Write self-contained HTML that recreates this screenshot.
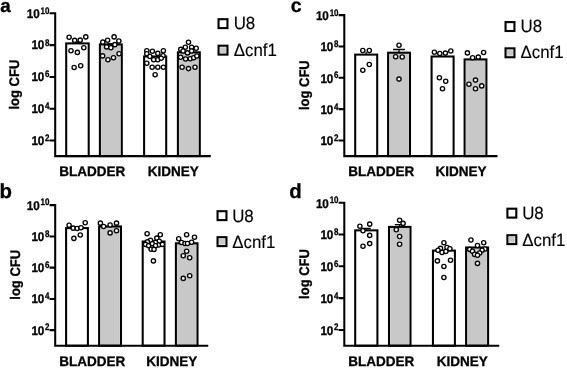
<!DOCTYPE html>
<html lang="en">
<head>
<meta charset="utf-8">
<title>log CFU bladder / kidney</title>
<style>
html,body{margin:0;padding:0;background:#fff;}
body{width:567px;height:368px;overflow:hidden;}
svg{display:block;}
text{font-family:"Liberation Sans",Arial,Helvetica,sans-serif;fill:#000;stroke:#000;stroke-width:0.3px;text-rendering:geometricPrecision;}
.b{font-weight:700;}
.pl{font-size:18px;font-weight:700;}
.tk{font-size:11.7px;font-weight:700;letter-spacing:-0.2px;}
.sp{font-size:9.5px;font-weight:700;}
.ax{font-size:13.5px;font-weight:700;}
.lg{font-size:16.9px;stroke-width:0.12px;}
.ln{stroke:#000;stroke-width:2.05;fill:none;}
.dot{fill:#fff;stroke:#000;stroke-width:1.35;}
</style>
</head>
<body>
<svg width="567" height="368" viewBox="0 0 567 368">
<rect x="0" y="0" width="567" height="368" fill="#ffffff"/>
<g id="panel-a">
<text class="pl" style="font-size:18.8px" x="0.2" y="11.6">a</text>
<rect class="ln" x="66.20" y="43.40" width="22.50" height="112.70"/>
<path class="ln" style="stroke-width:1.3" d="M77.40 43.40V42.00M73.20 42.00H81.60"/>
<rect x="101.15" y="44.40" width="19.40" height="111.70" fill="#c8c8c8"/>
<rect class="ln" x="99.90" y="44.40" width="21.90" height="111.70"/>
<path class="ln" style="stroke-width:1.3" d="M110.90 44.40V43.60M107.90 43.60H113.90"/>
<rect class="ln" x="144.10" y="56.50" width="22.10" height="99.60"/>
<rect x="179.15" y="52.30" width="19.40" height="103.80" fill="#c8c8c8"/>
<rect class="ln" x="177.90" y="52.30" width="21.90" height="103.80"/>
<path class="ln" d="M55.20 12.28V156.10H210.75M55.20 13.30H49.50M55.20 45.10H49.50M55.20 76.90H49.50M55.20 108.65H49.50M55.20 140.40H49.50"/>
<text class="tk" text-anchor="end" transform="translate(39.45 17.65) scale(1 1.08)">10</text>
<text class="sp" text-anchor="end" transform="translate(49.45 13.85) scale(0.84 1.0)">10</text>
<text class="tk" text-anchor="end" transform="translate(44.00 49.45) scale(1 1.08)">10</text>
<text class="sp" text-anchor="end" transform="translate(49.45 45.65) scale(0.84 1.0)">8</text>
<text class="tk" text-anchor="end" transform="translate(44.00 81.25) scale(1 1.08)">10</text>
<text class="sp" text-anchor="end" transform="translate(49.45 77.45) scale(0.84 1.0)">6</text>
<text class="tk" text-anchor="end" transform="translate(44.00 113.00) scale(1 1.08)">10</text>
<text class="sp" text-anchor="end" transform="translate(49.45 109.20) scale(0.84 1.0)">4</text>
<text class="tk" text-anchor="end" transform="translate(44.00 144.75) scale(1 1.08)">10</text>
<text class="sp" text-anchor="end" transform="translate(49.45 140.95) scale(0.84 1.0)">2</text>
<circle class="dot" cx="69.10" cy="37.30" r="2.12"/>
<circle class="dot" cx="74.65" cy="40.40" r="2.12"/>
<circle class="dot" cx="80.20" cy="40.15" r="2.12"/>
<circle class="dot" cx="85.80" cy="36.90" r="2.12"/>
<circle class="dot" cx="83.80" cy="47.70" r="2.12"/>
<circle class="dot" cx="71.00" cy="50.70" r="2.12"/>
<circle class="dot" cx="77.40" cy="52.40" r="2.12"/>
<circle class="dot" cx="74.15" cy="67.45" r="2.12"/>
<circle class="dot" cx="80.70" cy="65.70" r="2.12"/>
<circle class="dot" cx="114.10" cy="36.90" r="2.12"/>
<circle class="dot" cx="107.60" cy="40.30" r="2.12"/>
<circle class="dot" cx="102.80" cy="42.15" r="2.12"/>
<circle class="dot" cx="118.85" cy="41.00" r="2.12"/>
<circle class="dot" cx="114.85" cy="44.65" r="2.12"/>
<circle class="dot" cx="106.60" cy="46.90" r="2.12"/>
<circle class="dot" cx="110.85" cy="47.80" r="2.12"/>
<circle class="dot" cx="119.10" cy="53.80" r="2.12"/>
<circle class="dot" cx="102.60" cy="55.90" r="2.12"/>
<circle class="dot" cx="113.50" cy="57.80" r="2.12"/>
<circle class="dot" cx="107.95" cy="59.70" r="2.12"/>
<circle class="dot" cx="146.80" cy="50.70" r="2.12"/>
<circle class="dot" cx="152.40" cy="51.30" r="2.12"/>
<circle class="dot" cx="157.80" cy="53.40" r="2.12"/>
<circle class="dot" cx="163.40" cy="50.70" r="2.12"/>
<circle class="dot" cx="146.80" cy="53.80" r="2.12"/>
<circle class="dot" cx="149.90" cy="56.50" r="2.12"/>
<circle class="dot" cx="163.00" cy="55.70" r="2.12"/>
<circle class="dot" cx="153.65" cy="59.80" r="2.12"/>
<circle class="dot" cx="157.80" cy="59.80" r="2.12"/>
<circle class="dot" cx="161.20" cy="58.20" r="2.12"/>
<circle class="dot" cx="146.80" cy="63.20" r="2.12"/>
<circle class="dot" cx="152.15" cy="67.30" r="2.12"/>
<circle class="dot" cx="157.80" cy="67.30" r="2.12"/>
<circle class="dot" cx="163.40" cy="67.30" r="2.12"/>
<circle class="dot" cx="155.15" cy="74.80" r="2.12"/>
<circle class="dot" cx="188.50" cy="42.30" r="2.12"/>
<circle class="dot" cx="185.30" cy="47.30" r="2.12"/>
<circle class="dot" cx="191.60" cy="47.30" r="2.12"/>
<circle class="dot" cx="180.80" cy="49.40" r="2.12"/>
<circle class="dot" cx="196.20" cy="48.20" r="2.12"/>
<circle class="dot" cx="183.10" cy="51.00" r="2.12"/>
<circle class="dot" cx="191.60" cy="51.00" r="2.12"/>
<circle class="dot" cx="187.50" cy="52.90" r="2.12"/>
<circle class="dot" cx="180.60" cy="57.30" r="2.12"/>
<circle class="dot" cx="185.60" cy="59.05" r="2.12"/>
<circle class="dot" cx="190.30" cy="58.80" r="2.12"/>
<circle class="dot" cx="193.70" cy="57.80" r="2.12"/>
<circle class="dot" cx="196.85" cy="56.05" r="2.12"/>
<circle class="dot" cx="182.10" cy="67.20" r="2.12"/>
<circle class="dot" cx="188.50" cy="68.60" r="2.12"/>
<circle class="dot" cx="195.00" cy="67.20" r="2.12"/>
<text class="ax" style="font-size:13px" text-anchor="middle" transform="translate(19.00 84.60) rotate(-90) scale(1 1.07)">log CFU</text>
<text class="ax" transform="translate(59.20 175.70) scale(1 1.03)">BLADDER</text>
<text class="ax" transform="translate(147.70 175.70) scale(1 1.03)">KIDNEY</text>
<rect x="218.55" y="19.20" width="8.90" height="8.90" fill="#fff" stroke="#000" stroke-width="2.1"/>
<text class="lg" transform="translate(233.65 29.20) scale(1 1.045)">U8</text>
<rect x="218.55" y="45.70" width="8.90" height="8.90" fill="#fff" stroke="#000" stroke-width="2.1"/>
<rect x="220.10" y="47.25" width="5.80" height="5.80" fill="#c8c8c8"/>
<text class="lg" transform="translate(233.65 55.70) scale(1 1.045)">Δcnf1</text>
</g>
<g id="panel-b">
<text class="pl" style="font-size:20.4px" x="-0.4" y="197.9">b</text>
<rect class="ln" x="66.10" y="228.10" width="21.80" height="117.60"/>
<rect x="100.35" y="226.50" width="19.40" height="119.20" fill="#c8c8c8"/>
<rect class="ln" x="99.10" y="226.50" width="21.90" height="119.20"/>
<rect class="ln" x="142.70" y="241.50" width="21.80" height="104.20"/>
<rect x="177.15" y="243.30" width="19.10" height="102.40" fill="#c8c8c8"/>
<rect class="ln" x="175.90" y="243.30" width="21.60" height="102.40"/>
<path class="ln" d="M55.20 204.07V345.70H208.25M55.20 205.10H49.50M55.20 236.40H49.50M55.20 267.60H49.50M55.20 298.90H49.50M55.20 330.10H49.50"/>
<text class="tk" text-anchor="end" transform="translate(39.45 209.55) scale(1 1.08)">10</text>
<text class="sp" text-anchor="end" transform="translate(49.45 205.45) scale(0.84 1.0)">10</text>
<text class="tk" text-anchor="end" transform="translate(44.00 240.85) scale(1 1.08)">10</text>
<text class="sp" text-anchor="end" transform="translate(49.45 236.75) scale(0.84 1.0)">8</text>
<text class="tk" text-anchor="end" transform="translate(44.00 272.05) scale(1 1.08)">10</text>
<text class="sp" text-anchor="end" transform="translate(49.45 267.95) scale(0.84 1.0)">6</text>
<text class="tk" text-anchor="end" transform="translate(44.00 303.35) scale(1 1.08)">10</text>
<text class="sp" text-anchor="end" transform="translate(49.45 299.25) scale(0.84 1.0)">4</text>
<text class="tk" text-anchor="end" transform="translate(44.00 334.55) scale(1 1.08)">10</text>
<text class="sp" text-anchor="end" transform="translate(49.45 330.45) scale(0.84 1.0)">2</text>
<circle class="dot" cx="69.10" cy="225.30" r="2.12"/>
<circle class="dot" cx="73.15" cy="228.15" r="2.12"/>
<circle class="dot" cx="77.15" cy="228.50" r="2.12"/>
<circle class="dot" cx="81.00" cy="227.80" r="2.12"/>
<circle class="dot" cx="85.20" cy="222.80" r="2.12"/>
<circle class="dot" cx="80.30" cy="235.00" r="2.12"/>
<circle class="dot" cx="73.90" cy="238.40" r="2.12"/>
<circle class="dot" cx="100.40" cy="223.15" r="2.12"/>
<circle class="dot" cx="103.60" cy="226.50" r="2.12"/>
<circle class="dot" cx="110.10" cy="225.00" r="2.12"/>
<circle class="dot" cx="116.50" cy="223.15" r="2.12"/>
<circle class="dot" cx="116.50" cy="230.70" r="2.12"/>
<circle class="dot" cx="110.10" cy="232.90" r="2.12"/>
<circle class="dot" cx="147.10" cy="233.80" r="2.12"/>
<circle class="dot" cx="160.30" cy="234.80" r="2.12"/>
<circle class="dot" cx="156.80" cy="238.15" r="2.12"/>
<circle class="dot" cx="150.50" cy="240.30" r="2.12"/>
<circle class="dot" cx="147.40" cy="241.90" r="2.12"/>
<circle class="dot" cx="159.30" cy="241.30" r="2.12"/>
<circle class="dot" cx="155.50" cy="242.50" r="2.12"/>
<circle class="dot" cx="145.50" cy="244.40" r="2.12"/>
<circle class="dot" cx="148.60" cy="245.70" r="2.12"/>
<circle class="dot" cx="152.40" cy="243.80" r="2.12"/>
<circle class="dot" cx="158.70" cy="245.00" r="2.12"/>
<circle class="dot" cx="162.40" cy="244.40" r="2.12"/>
<circle class="dot" cx="155.50" cy="245.70" r="2.12"/>
<circle class="dot" cx="151.15" cy="249.20" r="2.12"/>
<circle class="dot" cx="154.00" cy="249.40" r="2.12"/>
<circle class="dot" cx="153.40" cy="260.90" r="2.12"/>
<circle class="dot" cx="186.60" cy="234.80" r="2.12"/>
<circle class="dot" cx="178.70" cy="238.80" r="2.12"/>
<circle class="dot" cx="194.50" cy="237.30" r="2.12"/>
<circle class="dot" cx="181.60" cy="242.50" r="2.12"/>
<circle class="dot" cx="185.00" cy="243.50" r="2.12"/>
<circle class="dot" cx="187.50" cy="243.50" r="2.12"/>
<circle class="dot" cx="191.60" cy="242.30" r="2.12"/>
<circle class="dot" cx="186.60" cy="251.30" r="2.12"/>
<circle class="dot" cx="183.30" cy="255.70" r="2.12"/>
<circle class="dot" cx="189.70" cy="257.80" r="2.12"/>
<circle class="dot" cx="183.30" cy="278.40" r="2.12"/>
<circle class="dot" cx="189.70" cy="275.70" r="2.12"/>
<text class="ax" style="font-size:13px" text-anchor="middle" transform="translate(19.50 274.80) rotate(-90) scale(1 1.07)">log CFU</text>
<text class="ax" transform="translate(59.20 365.50) scale(1 1.03)">BLADDER</text>
<text class="ax" transform="translate(146.20 365.50) scale(1 1.03)">KIDNEY</text>
<rect x="217.55" y="211.20" width="8.90" height="8.90" fill="#fff" stroke="#000" stroke-width="2.1"/>
<text class="lg" transform="translate(232.15 221.90) scale(1 1.045)">U8</text>
<rect x="217.55" y="237.20" width="8.90" height="8.90" fill="#fff" stroke="#000" stroke-width="2.1"/>
<rect x="219.10" y="238.75" width="5.80" height="5.80" fill="#c8c8c8"/>
<text class="lg" transform="translate(232.15 247.60) scale(1 1.045)">Δcnf1</text>
</g>
<g id="panel-c">
<text class="pl" style="font-size:19.6px" x="290.7" y="12.1">c</text>
<rect class="ln" x="355.20" y="54.60" width="22.00" height="101.50"/>
<path class="ln" style="stroke-width:1.3" d="M366.15 54.60V52.00"/>
<rect x="389.35" y="52.70" width="19.40" height="103.40" fill="#c8c8c8"/>
<rect class="ln" x="388.10" y="52.70" width="21.90" height="103.40"/>
<path class="ln" style="stroke-width:1.3" d="M399.00 52.70V49.50M393.10 49.50H404.90"/>
<rect class="ln" x="431.60" y="56.50" width="22.00" height="99.60"/>
<rect x="465.85" y="59.40" width="19.30" height="96.70" fill="#c8c8c8"/>
<rect class="ln" x="464.60" y="59.40" width="21.80" height="96.70"/>
<path class="ln" d="M344.30 14.07V156.10H497.50M344.30 15.10H338.60M344.30 46.50H338.60M344.30 77.80H338.60M344.30 109.10H338.60M344.30 140.40H338.60"/>
<text class="tk" text-anchor="end" transform="translate(328.55 19.80) scale(1 1.08)">10</text>
<text class="sp" text-anchor="end" transform="translate(338.55 15.75) scale(0.84 1.0)">10</text>
<text class="tk" text-anchor="end" transform="translate(333.10 51.20) scale(1 1.08)">10</text>
<text class="sp" text-anchor="end" transform="translate(338.55 47.15) scale(0.84 1.0)">8</text>
<text class="tk" text-anchor="end" transform="translate(333.10 82.50) scale(1 1.08)">10</text>
<text class="sp" text-anchor="end" transform="translate(338.55 78.45) scale(0.84 1.0)">6</text>
<text class="tk" text-anchor="end" transform="translate(333.10 113.80) scale(1 1.08)">10</text>
<text class="sp" text-anchor="end" transform="translate(338.55 109.75) scale(0.84 1.0)">4</text>
<text class="tk" text-anchor="end" transform="translate(333.10 145.10) scale(1 1.08)">10</text>
<text class="sp" text-anchor="end" transform="translate(338.55 141.05) scale(0.84 1.0)">2</text>
<circle class="dot" cx="362.80" cy="50.50" r="2.12"/>
<circle class="dot" cx="369.30" cy="50.50" r="2.12"/>
<circle class="dot" cx="369.30" cy="64.50" r="2.12"/>
<circle class="dot" cx="362.80" cy="70.30" r="2.12"/>
<circle class="dot" cx="399.00" cy="45.30" r="2.12"/>
<circle class="dot" cx="395.60" cy="56.80" r="2.12"/>
<circle class="dot" cx="402.20" cy="57.00" r="2.12"/>
<circle class="dot" cx="399.00" cy="79.10" r="2.12"/>
<circle class="dot" cx="434.40" cy="52.30" r="2.12"/>
<circle class="dot" cx="439.80" cy="53.50" r="2.12"/>
<circle class="dot" cx="445.40" cy="53.10" r="2.12"/>
<circle class="dot" cx="450.80" cy="51.00" r="2.12"/>
<circle class="dot" cx="439.40" cy="77.80" r="2.12"/>
<circle class="dot" cx="445.70" cy="81.30" r="2.12"/>
<circle class="dot" cx="442.50" cy="88.80" r="2.12"/>
<circle class="dot" cx="467.40" cy="52.90" r="2.12"/>
<circle class="dot" cx="483.60" cy="52.50" r="2.12"/>
<circle class="dot" cx="472.60" cy="57.80" r="2.12"/>
<circle class="dot" cx="478.30" cy="57.10" r="2.12"/>
<circle class="dot" cx="475.50" cy="80.10" r="2.12"/>
<circle class="dot" cx="468.95" cy="84.20" r="2.12"/>
<circle class="dot" cx="481.70" cy="85.90" r="2.12"/>
<circle class="dot" cx="475.50" cy="88.80" r="2.12"/>
<text class="ax" style="font-size:13px" text-anchor="middle" transform="translate(308.90 85.20) rotate(-90) scale(1 1.07)">log CFU</text>
<text class="ax" transform="translate(348.20 175.70) scale(1 1.03)">BLADDER</text>
<text class="ax" transform="translate(435.45 175.70) scale(1 1.03)">KIDNEY</text>
<rect x="505.55" y="22.10" width="8.90" height="8.90" fill="#fff" stroke="#000" stroke-width="2.1"/>
<text class="lg" transform="translate(520.45 32.00) scale(1 1.045)">U8</text>
<rect x="505.55" y="48.35" width="8.90" height="8.90" fill="#fff" stroke="#000" stroke-width="2.1"/>
<rect x="507.10" y="49.90" width="5.80" height="5.80" fill="#c8c8c8"/>
<text class="lg" transform="translate(520.45 58.20) scale(1 1.045)">Δcnf1</text>
</g>
<g id="panel-d">
<text class="pl" style="font-size:20.4px" x="289.3" y="197.9">d</text>
<rect class="ln" x="355.20" y="230.35" width="22.20" height="115.35"/>
<path class="ln" style="stroke-width:1.3" d="M366.30 230.35V228.50M361.90 228.50H370.70"/>
<rect x="390.25" y="226.90" width="19.00" height="118.80" fill="#c8c8c8"/>
<rect class="ln" x="389.00" y="226.90" width="21.50" height="118.80"/>
<path class="ln" style="stroke-width:1.3" d="M399.70 226.90V224.65M394.80 224.65H404.60"/>
<rect class="ln" x="432.95" y="250.60" width="21.95" height="95.10"/>
<rect x="467.35" y="247.50" width="19.50" height="98.20" fill="#c8c8c8"/>
<rect class="ln" x="466.10" y="247.50" width="22.00" height="98.20"/>
<path class="ln" d="M344.30 201.78V345.70H499.25M344.30 202.80H338.60M344.30 234.55H338.60M344.30 266.30H338.60M344.30 298.10H338.60M344.30 329.90H338.60"/>
<text class="tk" text-anchor="end" transform="translate(328.55 207.60) scale(1 1.08)">10</text>
<text class="sp" text-anchor="end" transform="translate(338.55 203.30) scale(0.84 1.0)">10</text>
<text class="tk" text-anchor="end" transform="translate(333.10 239.35) scale(1 1.08)">10</text>
<text class="sp" text-anchor="end" transform="translate(338.55 235.05) scale(0.84 1.0)">8</text>
<text class="tk" text-anchor="end" transform="translate(333.10 271.10) scale(1 1.08)">10</text>
<text class="sp" text-anchor="end" transform="translate(338.55 266.80) scale(0.84 1.0)">6</text>
<text class="tk" text-anchor="end" transform="translate(333.10 302.90) scale(1 1.08)">10</text>
<text class="sp" text-anchor="end" transform="translate(338.55 298.60) scale(0.84 1.0)">4</text>
<text class="tk" text-anchor="end" transform="translate(333.10 334.70) scale(1 1.08)">10</text>
<text class="sp" text-anchor="end" transform="translate(338.55 330.40) scale(0.84 1.0)">2</text>
<circle class="dot" cx="359.90" cy="226.30" r="2.12"/>
<circle class="dot" cx="369.70" cy="224.15" r="2.12"/>
<circle class="dot" cx="363.00" cy="230.70" r="2.12"/>
<circle class="dot" cx="369.70" cy="235.40" r="2.12"/>
<circle class="dot" cx="369.70" cy="243.60" r="2.12"/>
<circle class="dot" cx="363.00" cy="246.30" r="2.12"/>
<circle class="dot" cx="399.60" cy="220.30" r="2.12"/>
<circle class="dot" cx="403.10" cy="223.40" r="2.12"/>
<circle class="dot" cx="396.30" cy="229.80" r="2.12"/>
<circle class="dot" cx="399.60" cy="236.50" r="2.12"/>
<circle class="dot" cx="399.60" cy="244.20" r="2.12"/>
<circle class="dot" cx="443.90" cy="242.80" r="2.12"/>
<circle class="dot" cx="440.50" cy="248.40" r="2.12"/>
<circle class="dot" cx="447.00" cy="247.50" r="2.12"/>
<circle class="dot" cx="438.00" cy="250.30" r="2.12"/>
<circle class="dot" cx="449.90" cy="248.80" r="2.12"/>
<circle class="dot" cx="442.00" cy="252.50" r="2.12"/>
<circle class="dot" cx="445.90" cy="251.50" r="2.12"/>
<circle class="dot" cx="437.40" cy="260.90" r="2.12"/>
<circle class="dot" cx="450.50" cy="260.30" r="2.12"/>
<circle class="dot" cx="443.90" cy="266.55" r="2.12"/>
<circle class="dot" cx="443.90" cy="277.45" r="2.12"/>
<circle class="dot" cx="470.95" cy="240.00" r="2.12"/>
<circle class="dot" cx="483.70" cy="242.80" r="2.12"/>
<circle class="dot" cx="477.50" cy="245.50" r="2.12"/>
<circle class="dot" cx="469.70" cy="249.40" r="2.12"/>
<circle class="dot" cx="485.00" cy="249.00" r="2.12"/>
<circle class="dot" cx="472.45" cy="251.30" r="2.12"/>
<circle class="dot" cx="482.10" cy="250.30" r="2.12"/>
<circle class="dot" cx="474.60" cy="254.40" r="2.12"/>
<circle class="dot" cx="479.70" cy="253.00" r="2.12"/>
<circle class="dot" cx="477.50" cy="255.30" r="2.12"/>
<circle class="dot" cx="477.50" cy="263.40" r="2.12"/>
<text class="ax" style="font-size:13px" text-anchor="middle" transform="translate(308.80 274.00) rotate(-90) scale(1 1.07)">log CFU</text>
<text class="ax" transform="translate(348.20 365.50) scale(1 1.03)">BLADDER</text>
<text class="ax" transform="translate(436.70 365.50) scale(1 1.03)">KIDNEY</text>
<rect x="507.40" y="208.70" width="8.90" height="8.90" fill="#fff" stroke="#000" stroke-width="2.1"/>
<text class="lg" transform="translate(522.15 219.20) scale(1 1.045)">U8</text>
<rect x="507.40" y="235.20" width="8.90" height="8.90" fill="#fff" stroke="#000" stroke-width="2.1"/>
<rect x="508.95" y="236.75" width="5.80" height="5.80" fill="#c8c8c8"/>
<text class="lg" transform="translate(522.15 245.50) scale(1 1.045)">Δcnf1</text>
</g>
</svg>
</body>
</html>
